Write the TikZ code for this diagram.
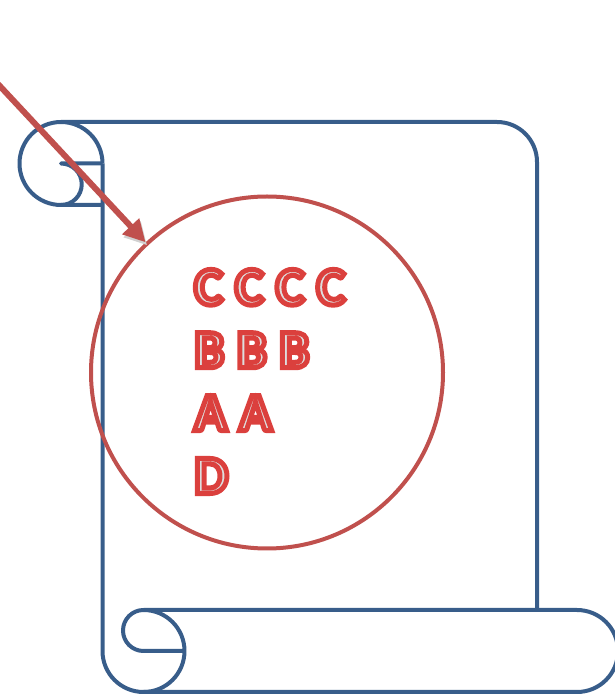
\documentclass[tikz,border=0pt]{standalone}
\usepackage{fontspec}
\usetikzlibrary{positioning,arrows.meta,calc}
\newfontfamily\lettersfont{Carlito}
\definecolor{ScrollBlue}{RGB}{56,93,138}
\definecolor{LensRed}{RGB}{192,80,77}
\definecolor{LetterGray}{RGB}{222,222,222}
\newcommand{\wordart}[1]{\special{pdf:literal direct 0.86 0.25 0.24 RG 2 Tr 5 w}#1\special{pdf:literal direct 0 Tr 1 w}}

\begin{document}
\begin{tikzpicture}[x=1pt, y=1pt,
    scroll/.style={draw=ScrollBlue, line width=4pt, line join=round},
    lens/.style={circle, draw=LensRed, line width=4pt, minimum size=352pt, inner sep=0pt},
    pointer/.style={draw=LensRed, line width=6pt, -{Triangle[length=22pt, width=22pt]},
                    preaction={draw=black!18, transform canvas={shift={(1.5pt,-3pt)}}}},
    letters/.style={inner sep=0pt, text height=35pt, text depth=0pt, color=LetterGray,
                    font=\lettersfont\bfseries\fontsize{54}{60}\selectfont},
]
    \useasboundingbox (0,0) rectangle (615,694);
    % scroll
    \draw[scroll] (61,572) -- (497,572) arc[start angle=90, end angle=0, radius=40] -- (537,84);
    \draw[scroll] (102.5,530.5) arc[start angle=0, end angle=270, radius=41.5] -- (102.5,489);
    \draw[scroll] (102.5,530.5) -- (61,530.5) arc[start angle=90, end angle=-90, radius=20.75];
    \draw[scroll] (102.5,530.5) -- (102.5,43) arc[start angle=180, end angle=450, radius=41]
        arc[start angle=90, end angle=270, radius=20.5] -- (184.5,43);
    \draw[scroll] (143.5,84) -- (577,84) arc[start angle=90, end angle=-90, radius=41] -- (143.5,2);
    % lens and letters
    \node[lens] (lens) at (267,321.5) {};
    \node[letters, anchor=south west] (crow) at (194,389) {\wordart{C C C C}};
    \node[letters, below=27.5pt of crow.south west, anchor=north west] (brow) {\wordart{B B B}};
    \node[letters, below=27.5pt of brow.south west, anchor=north west] (arow) {\wordart{A A}};
    \node[letters, below=27.5pt of arow.south west, anchor=north west] (drow) {\wordart{D}};
    % pointer
    \coordinate (feed) at ($(lens.center)!2.3!(lens.133)$);
    \draw[pointer] (feed) -- (lens.133);
\end{tikzpicture}
\end{document}
